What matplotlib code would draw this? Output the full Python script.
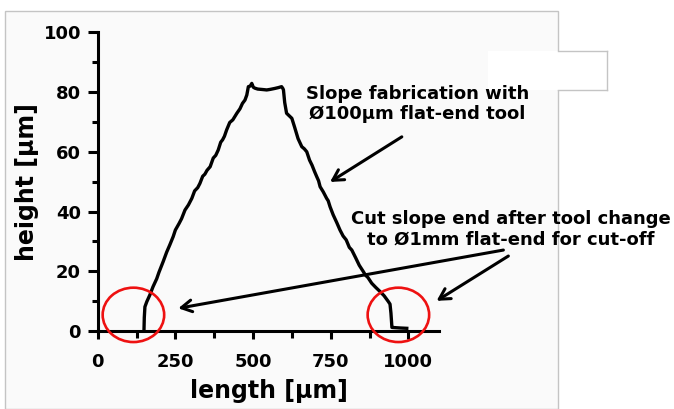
#!/usr/bin/env python3

import matplotlib

matplotlib.use('Agg')

import matplotlib.pyplot as plt
from matplotlib.lines import Line2D
from matplotlib.patches import Ellipse, Rectangle
from matplotlib.ticker import MultipleLocator

# measured surface profile of the slope
length_um = [149, 150, 152, 158, 168, 178, 190, 197, 211, 222, 232, 243, 250, 262, 270,
             281, 292, 303, 312, 322, 329, 338, 345, 352, 362, 372, 380, 388, 396, 402,
             408, 415, 425, 435, 448, 458, 466, 474, 480, 485, 491, 496, 501, 506, 515,
             525, 535, 544, 556, 570, 582, 592, 596, 598, 602, 608, 615, 625, 634, 645,
             657, 665, 673, 682, 690, 698, 705, 711, 716, 726, 737, 742, 748, 758, 770,
             780, 790, 800, 810, 818, 830, 842, 855, 862, 870, 882, 895, 909, 922, 936,
             941, 944, 946, 947, 947, 960, 975, 995]
height_um = [0.3, 4.5, 8.1, 9.8, 12.1, 14.8, 17.5, 19.6, 23.3, 26.4, 28.8, 31.6, 33.8,
             36.0, 37.6, 40.5, 42.2, 44.4, 46.9, 48.0, 49.4, 51.8, 52.5, 53.8, 55.0,
             57.9, 58.8, 60.6, 63.2, 64.0, 65.2, 67.3, 69.8, 70.7, 72.9, 74.4, 76.2,
             77.3, 79.0, 81.8, 82.0, 82.9, 81.6, 81.3, 81.0, 80.9, 80.8, 80.7, 80.9,
             81.2, 81.5, 81.8, 81.2, 80.7, 76.5, 72.9, 72.2, 71.2, 68.2, 64.4, 61.7,
             61.0, 60.0, 57.2, 55.5, 53.4, 51.7, 50.3, 48.3, 46.6, 44.4, 43.6, 41.6,
             38.9, 36.2, 33.8, 31.8, 30.5, 28.0, 27.1, 24.6, 22.0, 19.9, 18.7, 17.9,
             16.0, 14.6, 13.2, 11.8, 9.8, 9.0, 6.0, 3.0, 1.4, 1.2, 1.1, 1.0, 0.9]

x_ticks = [0, 250, 500, 750, 1000]
y_ticks = [0, 20, 40, 60, 80, 100]

W, H = 674, 409

plt.rcParams['font.family'] = 'DejaVu Sans'
plt.rcParams['font.weight'] = 'bold'

fig = plt.figure(figsize=(W / 100, H / 100), dpi=100)
fig.patch.set_facecolor('white')


def fx(px):
    return px / W


def fy(py):
    return 1 - py / H


# light slide panel behind the plot
fig.add_artist(Rectangle((fx(5), fy(409)), fx(558) - fx(5), fy(11) - fy(409),
                         transform=fig.transFigure, facecolor='#fafafa',
                         edgecolor='#c4c4c4', lw=1, zorder=-3))
fig.add_artist(Rectangle((fx(488), fy(90)), fx(607) - fx(488), fy(51) - fy(90),
                         transform=fig.transFigure, facecolor='white',
                         edgecolor='none', zorder=-2))
for xs, ys in [((558, 607), (51, 51)), ((607, 607), (51, 90)), ((558, 607), (90, 90))]:
    fig.add_artist(Line2D([fx(v) for v in xs], [fy(v) for v in ys],
                          transform=fig.transFigure, color='#c4c4c4', lw=1, zorder=-1))

ax = fig.add_axes([fx(97.7), fy(331), fx(439.4) - fx(97.7), fy(32.3) - fy(331)])
ax.patch.set_alpha(0)

ax.plot(length_um, height_um, '-', color='black', lw=2.4, solid_joinstyle='round',
        clip_on=False, zorder=3)

ax.set_xlim(0, 1100)
ax.set_ylim(0, 100)
ax.set_xticks(x_ticks)
ax.set_yticks(y_ticks)
ax.xaxis.set_minor_locator(MultipleLocator(125))
ax.yaxis.set_minor_locator(MultipleLocator(10))

for side in ['top', 'right']:
    ax.spines[side].set_visible(False)
for side in ['left', 'bottom']:
    ax.spines[side].set_linewidth(2.2)

ax.tick_params(axis='both', which='both', direction='out', width=2.2)
ax.tick_params(axis='x', which='major', length=5.5, pad=10, labelsize=13)
ax.tick_params(axis='x', which='minor', length=5)
ax.tick_params(axis='y', which='major', length=7, pad=5, labelsize=13)
ax.tick_params(axis='y', which='minor', length=4.5)

ax.set_xlabel('length [µm]', fontsize=17, fontweight='bold', labelpad=6)
ax.set_ylabel('height [µm]', fontsize=17, fontweight='bold', labelpad=3)

# annotations
ax.text(1030, 76, 'Slope fabrication with\nØ100µm flat-end tool', fontsize=13,
        fontweight='bold', ha='center', va='center', linespacing=1.15)
ax.text(1330, 34.1, 'Cut slope end after tool change\nto Ø1mm flat-end for cut-off',
        fontsize=13, fontweight='bold', ha='center', va='center', linespacing=1.15,
        clip_on=False)

arrow = dict(arrowstyle='->,head_length=0.75,head_width=0.42', lw=2.2, color='black',
             shrinkA=0, shrinkB=0)
for tail, head in [((979, 65.0), (748, 49.9)),
                   ((1306, 27.1), (259.5, 7.6)),
                   ((1322, 25.1), (1091, 10.1))]:
    ax.annotate('', xy=head, xytext=tail, arrowprops=arrow, annotation_clip=False)

for cx in [115, 968]:
    ax.add_patch(Ellipse((cx, 5.4), 198, 18.2, fill=False, edgecolor='#ee1111',
                         lw=1.9, clip_on=False, zorder=4))

fig.savefig('out.png', dpi=100)
